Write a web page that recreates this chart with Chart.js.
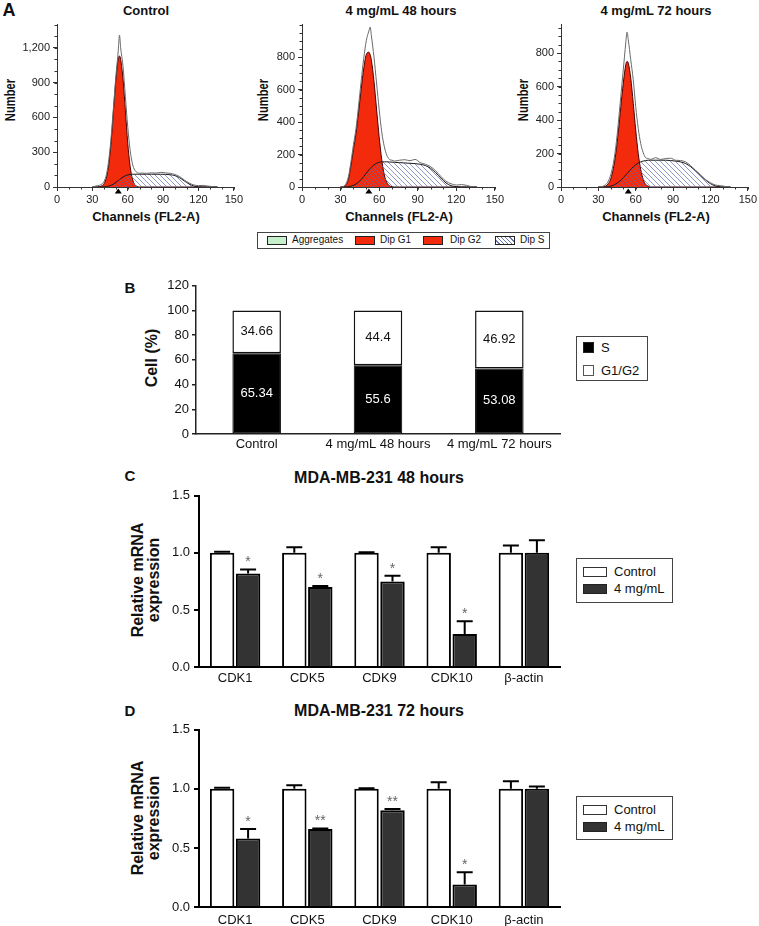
<!DOCTYPE html>
<html>
<head>
<meta charset="utf-8">
<script src="https://cdn.jsdelivr.net/npm/chart.js@4.4.0/dist/chart.umd.min.js"></script>
<style>
  body { margin: 0; background: #fff; font-family: "Liberation Sans", Arial, sans-serif; color: #111; }
  #fig { position: relative; width: 759px; height: 926px; overflow: hidden; }
  canvas { position: absolute; }
  .t { position: absolute; transform: translate(-50%, -50%); white-space: nowrap; }
  .b { font-weight: bold; }
  .rot { transform: translate(-50%, -50%) rotate(-90deg); }
  .lg { position: absolute; border: 1px solid #444; background: #fff; }
  .sw { position: absolute; box-sizing: border-box; border: 1px solid #222; }
  .lt { position: absolute; white-space: nowrap; }
</style>
</head>
<body>
<div id="fig">
  <!-- panel A -->
  <div class="t b" style="left:9px;top:10px;font-size:18px">A</div>
  <div class="t b" style="left:146px;top:10px;font-size:13px">Control</div>
  <div class="t b" style="left:401px;top:10px;font-size:13px">4 mg/mL 48 hours</div>
  <div class="t b" style="left:656px;top:10px;font-size:13px">4 mg/mL 72 hours</div>
  <div class="t b" style="left:10px;top:100px;font-size:14px;transform:translate(-50%,-50%) rotate(-90deg) scaleX(0.8)">Number</div>
  <div class="t b" style="left:263px;top:100px;font-size:14px;transform:translate(-50%,-50%) rotate(-90deg) scaleX(0.8)">Number</div>
  <div class="t b" style="left:523px;top:100px;font-size:14px;transform:translate(-50%,-50%) rotate(-90deg) scaleX(0.8)">Number</div>
  <div class="t b" style="left:146px;top:216px;font-size:13px">Channels (FL2-A)</div>
  <div class="t b" style="left:399px;top:216px;font-size:13px">Channels (FL2-A)</div>
  <div class="t b" style="left:656px;top:216px;font-size:13px">Channels (FL2-A)</div>
  <canvas id="hCtrl" width="225" height="200" style="left:20px;top:15px"></canvas>
  <canvas id="h48" width="240" height="200" style="left:266px;top:15px"></canvas>
  <canvas id="h72" width="235" height="200" style="left:524px;top:15px"></canvas>
  <div class="lg" style="left:257px;top:232px;width:291px;height:15px;font-size:10px">
    <div class="sw" style="left:9px;top:3px;width:20px;height:9px;background:#c6f0cc"></div>
    <div class="lt" style="left:34px;top:1px">Aggregates</div>
    <div class="sw" style="left:97px;top:3px;width:20px;height:9px;background:#f42a0c"></div>
    <div class="lt" style="left:122px;top:1px">Dip G1</div>
    <div class="sw" style="left:165px;top:3px;width:20px;height:9px;background:#f42a0c"></div>
    <div class="lt" style="left:192px;top:1px">Dip G2</div>
    <div class="sw" style="left:237px;top:3px;width:20px;height:9px;background:repeating-linear-gradient(45deg,#fff 0 2px,#6a76b4 2px 3px)"></div>
    <div class="lt" style="left:262px;top:1px">Dip S</div>
  </div>

  <!-- panel B -->
  <div class="t b" style="left:130px;top:287px;font-size:15px">B</div>
  <div class="t b rot" style="left:152px;top:358px;font-size:16px">Cell (%)</div>
  <canvas id="cB" width="430" height="180" style="left:140px;top:275px"></canvas>
  <div class="lg" style="left:576px;top:336px;width:70px;height:43px;font-size:13px">
    <div class="sw" style="left:6px;top:5px;width:11px;height:11px;background:#000"></div>
    <div class="lt" style="left:24px;top:3px">S</div>
    <div class="sw" style="left:6px;top:28px;width:11px;height:11px;background:#fff;border-color:#555"></div>
    <div class="lt" style="left:24px;top:26px">G1/G2</div>
  </div>

  <!-- panel C -->
  <div class="t b" style="left:130px;top:475px;font-size:15px">C</div>
  <div class="t b" style="left:379px;top:478px;font-size:16px">MDA-MB-231 48 hours</div>
  <div class="t b rot" style="left:138px;top:580px;font-size:16px">Relative mRNA</div>
  <div class="t b rot" style="left:154px;top:580px;font-size:16px">expression</div>
  <canvas id="cC" width="425" height="206" style="left:145px;top:484px"></canvas>
  <div class="lg" style="left:576px;top:558px;width:95px;height:43px;font-size:13px">
    <div class="sw" style="left:6px;top:8px;width:24px;height:10px;background:#fff;border-color:#333"></div>
    <div class="lt" style="left:37px;top:5px">Control</div>
    <div class="sw" style="left:6px;top:25px;width:24px;height:10px;background:#333"></div>
    <div class="lt" style="left:37px;top:22px">4 mg/mL</div>
  </div>

  <!-- panel D -->
  <div class="t b" style="left:130px;top:710px;font-size:15px">D</div>
  <div class="t b" style="left:379px;top:711px;font-size:16px">MDA-MB-231 72 hours</div>
  <div class="t b rot" style="left:138px;top:818px;font-size:16px">Relative mRNA</div>
  <div class="t b rot" style="left:154px;top:818px;font-size:16px">expression</div>
  <canvas id="cD" width="425" height="208" style="left:145px;top:718px"></canvas>
  <div class="lg" style="left:576px;top:796px;width:95px;height:42px;font-size:13px">
    <div class="sw" style="left:6px;top:8px;width:24px;height:10px;background:#fff;border-color:#333"></div>
    <div class="lt" style="left:37px;top:5px">Control</div>
    <div class="sw" style="left:6px;top:25px;width:24px;height:10px;background:#333"></div>
    <div class="lt" style="left:37px;top:22px">4 mg/mL</div>
  </div>
</div>

<script>
// ---- panel A: DNA histograms (values read per channel) ----
const channels = [30,33,36,38,40,42,44,46,48,50,52,53,54,56,58,60,62,64,66,68,70,72,76,80,84,88,92,96,100,104,108,112,116,120,124,128,132,136];

const ctrlRaw = [0,8,15,25,50,110,240,440,700,960,1180,1310,1200,1040,780,520,320,200,145,125,118,120,118,122,120,126,122,118,108,90,60,35,18,12,14,8,3,0];
const ctrlG1  = [0,0,3,10,30,85,200,400,670,930,1105,1130,1100,930,660,380,180,70,20,5,0,0,0,0,0,0,0,0,0,0,0,0,0,0,0,0,0,0];
const ctrlS   = [0,0,0,0,2,4,8,15,26,40,56,64,72,86,97,104,108,110,110,110,110,110,110,110,110,110,109,106,98,80,52,26,9,2,0,0,0,0];

const h48Raw = [0,8,60,150,260,360,500,650,790,900,960,985,930,800,640,480,340,250,195,170,165,160,165,168,162,170,150,140,125,100,65,35,20,12,15,10,2,0];
const h48G1  = [0,5,45,130,230,330,460,600,730,815,830,815,780,650,480,310,170,75,28,8,2,0,0,0,0,0,0,0,0,0,0,0,0,0,0,0,0,0];
const h48S   = [0,0,2,5,10,18,30,45,65,85,105,113,122,136,146,152,155,155,155,154,153,152,150,148,146,144,140,132,115,88,55,25,8,2,0,0,0,0];

const h72Raw = [0,3,15,35,75,140,240,380,540,700,860,925,880,760,640,480,350,260,205,175,170,165,175,165,170,172,160,158,150,128,100,72,45,25,12,8,3,0];
const h72G1  = [0,0,5,20,50,110,200,330,480,620,730,750,740,650,500,340,200,105,45,15,5,0,0,0,0,0,0,0,0,0,0,0,0,0,0,0,0,0];
const h72S   = [0,0,0,2,5,10,18,28,40,55,72,80,88,105,120,133,143,150,155,158,160,160,160,160,160,158,155,150,140,122,98,70,42,20,6,1,0,0];

const g1Mean = [52, 52, 54];   // channel of the G1 marker triangle

const ctrlTicks = [0, 300, 600, 900, 1200];
const h48Ticks = [0, 200, 400, 600, 800];
const h72Ticks = [0, 200, 400, 600, 800];

// ---- panel B ----
const groups = ['Control', '4 mg/mL 48 hours', '4 mg/mL 72 hours'];
const sPhase = [65.34, 55.6, 53.08];
const g1g2 = [34.66, 44.4, 46.92];

// ---- panels C and D ----
const genes = ['CDK1', 'CDK5', 'CDK9', 'CDK10', 'β-actin'];
const ctrl48 = [1, 1, 1, 1, 1];
const ctrl48Err = [0.01, 0.05, 0.005, 0.05, 0.065];
const trt48 = [0.82, 0.70, 0.75, 0.29, 1.0];
const trt48Err = [0.035, 0.01, 0.05, 0.11, 0.11];
const sig48 = ['*', '*', '*', '*', ''];

const ctrl72 = [1, 1, 1, 1, 1];
const ctrl72Err = [0.01, 0.03, 0.005, 0.055, 0.065];
const trt72 = [0.58, 0.66, 0.82, 0.19, 1.0];
const trt72Err = [0.08, 0.005, 0.01, 0.105, 0.02];
const sig72 = ['*', '**', '**', '*', ''];

Chart.defaults.font.family = '"Liberation Sans", Arial, sans-serif';
Chart.defaults.color = '#222';
Chart.defaults.animation = false;

function makeHatch() {
  const c = document.createElement('canvas');
  c.width = 5; c.height = 5;
  const g = c.getContext('2d');
  g.strokeStyle = 'rgba(95,108,175,0.7)';
  g.lineWidth = 1;
  g.beginPath();
  g.moveTo(0, 0); g.lineTo(5, 5);
  g.moveTo(-1, 4); g.lineTo(1, 6);
  g.moveTo(4, -1); g.lineTo(6, 1);
  g.stroke();
  return g.createPattern(c, 'repeat');
}
const hatch = makeHatch();

// minor ticks + G1 marker below the axis
const histExtras = {
  id: 'histExtras',
  afterDraw(chart, args, opts) {
    const {ctx, scales: {x, y}} = chart;
    ctx.save();
    ctx.strokeStyle = '#333';
    ctx.lineWidth = 1;
    ctx.beginPath();
    for (let v = x.min; v <= x.max; v += opts.xMinor) {
      const px = Math.round(x.getPixelForValue(v)) + 0.5;
      ctx.moveTo(px, y.bottom); ctx.lineTo(px, y.bottom + 2.5);
    }
    for (let v = y.min; v <= y.max; v += opts.yMinor) {
      const py = Math.round(y.getPixelForValue(v)) + 0.5;
      ctx.moveTo(x.left - 2.5, py); ctx.lineTo(x.left, py);
    }
    ctx.stroke();
    const mx = x.getPixelForValue(opts.mark);
    ctx.fillStyle = '#000';
    ctx.beginPath();
    ctx.moveTo(mx, y.bottom + 1.5);
    ctx.lineTo(mx - 3.5, y.bottom + 6.5);
    ctx.lineTo(mx + 3.5, y.bottom + 6.5);
    ctx.closePath();
    ctx.fill();
    ctx.restore();
  }
};

function histogram(id, raw, g1, s, mark, yMax, yTicks, yMinor, yWidth, padRight) {
  const pts = arr => channels.map((c, i) => ({x: c, y: arr[i]}));
  return new Chart(document.getElementById(id), {
    type: 'line',
    data: {
      datasets: [
        {label: 'Data', data: pts(raw), borderColor: '#6a6a6a', borderWidth: 1, pointRadius: 0,
         fill: false, order: 1, cubicInterpolationMode: 'monotone'},
        {label: 'Dip S', data: pts(s), borderColor: '#1a1a1a', borderWidth: 1, pointRadius: 0,
         backgroundColor: hatch, fill: 'origin', order: 2, cubicInterpolationMode: 'monotone'},
        {label: 'Dip G1', data: pts(g1), borderColor: '#4a0000', borderWidth: 1, pointRadius: 0,
         backgroundColor: '#f42a0c', fill: 'origin', order: 3, cubicInterpolationMode: 'monotone'}
      ]
    },
    options: {
      responsive: false,
      layout: {padding: {top: 7, right: padRight, left: 0, bottom: 0}},
      plugins: {
        legend: {display: false},
        tooltip: {enabled: false},
        histExtras: {xMinor: 10, yMinor: yMinor, mark: mark}
      },
      scales: {
        x: {
          type: 'linear', min: 0, max: 150,
          ticks: {stepSize: 30, font: {size: 11}, color: '#222', maxRotation: 0, padding: 2},
          grid: {drawOnChartArea: false, tickLength: 4, color: '#333'},
          border: {color: '#333'},
          afterFit: sc => { sc.height = 28; }
        },
        y: {
          min: 0, max: yMax,
          ticks: {font: {size: 11}, color: '#222', padding: 3},
          grid: {drawOnChartArea: false, tickLength: 4, color: '#333'},
          border: {color: '#333'},
          afterBuildTicks: sc => { sc.ticks = yTicks.map(v => ({value: v})); },
          afterFit: sc => { sc.width = yWidth; }
        }
      }
    },
    plugins: [histExtras]
  });
}

histogram('hCtrl', ctrlRaw, ctrlG1, ctrlS, g1Mean[0], 1400, ctrlTicks, 100, 37, 9);
histogram('h48', h48Raw, h48G1, h48S, g1Mean[1], 1000, h48Ticks, 50, 36, 10);
histogram('h72', h72Raw, h72G1, h72S, g1Mean[2], 970, h72Ticks, 50, 37, 8);

// ---- panel B ----
const segLabels = {
  id: 'segLabels',
  afterDatasetsDraw(chart) {
    const ctx = chart.ctx;
    ctx.save();
    ctx.font = '13px "Liberation Sans", Arial, sans-serif';
    ctx.textAlign = 'center';
    ctx.textBaseline = 'middle';
    chart.data.datasets.forEach((ds, di) => {
      chart.getDatasetMeta(di).data.forEach((bar, i) => {
        ctx.fillStyle = ds.labelColor;
        ctx.fillText(String(ds.data[i]), bar.x, (bar.y + bar.base) / 2);
      });
    });
    ctx.restore();
  }
};

new Chart(document.getElementById('cB'), {
  type: 'bar',
  data: {
    labels: groups,
    datasets: [
      {label: 'S', data: sPhase, backgroundColor: '#000', borderColor: '#000', borderWidth: 1, labelColor: '#fff'},
      {label: 'G1/G2', data: g1g2, backgroundColor: '#fff', borderColor: '#111', borderWidth: 1.5, labelColor: '#111'}
    ]
  },
  options: {
    responsive: false,
    layout: {padding: {top: 8, right: 10, left: 0, bottom: 0}},
    datasets: {bar: {categoryPercentage: 0.8, barPercentage: 0.5, borderSkipped: false}},
    plugins: {legend: {display: false}, tooltip: {enabled: false}},
    scales: {
      x: {
        stacked: true,
        ticks: {font: {size: 13}, color: '#111', padding: 3, maxRotation: 0},
        grid: {display: false, drawTicks: false},
        border: {color: '#222', width: 1.5},
        afterFit: sc => { sc.height = 21; }
      },
      y: {
        stacked: true, min: 0, max: 120,
        ticks: {stepSize: 20, font: {size: 13}, color: '#111', padding: 3},
        grid: {drawOnChartArea: false, tickLength: 4, color: '#222', lineWidth: 1.5},
        border: {color: '#222', width: 1.5},
        afterFit: sc => { sc.width = 56; }
      }
    }
  },
  plugins: [segLabels]
});

// ---- panels C / D ----
const errorBars = {
  id: 'errorBars',
  afterDatasetsDraw(chart) {
    const ctx = chart.ctx;
    const yScale = chart.scales.y;
    ctx.save();
    chart.data.datasets.forEach((ds, di) => {
      chart.getDatasetMeta(di).data.forEach((bar, i) => {
        const top = yScale.getPixelForValue(ds.data[i] + ds.errors[i]);
        ctx.strokeStyle = '#000';
        ctx.lineWidth = 2;
        ctx.beginPath();
        ctx.moveTo(bar.x, bar.y);
        ctx.lineTo(bar.x, top);
        ctx.moveTo(bar.x - 8, top);
        ctx.lineTo(bar.x + 8, top);
        ctx.stroke();
        if (ds.stars && ds.stars[i]) {
          ctx.fillStyle = '#666';
          ctx.font = '14px "Liberation Sans", Arial, sans-serif';
          ctx.textAlign = 'center';
          ctx.textBaseline = 'middle';
          ctx.fillText(ds.stars[i], bar.x, top - 7);
        }
      });
    });
    ctx.restore();
  }
};

function expression(id, ctrl, ctrlErr, trt, trtErr, stars, xHeight, labelPad) {
  return new Chart(document.getElementById(id), {
    type: 'bar',
    data: {
      labels: genes,
      datasets: [
        {label: 'Control', data: ctrl, errors: ctrlErr, backgroundColor: '#fff', borderColor: '#000', borderWidth: 2},
        {label: '4 mg/mL', data: trt, errors: trtErr, stars: stars, backgroundColor: '#333', borderColor: '#000', borderWidth: 2}
      ]
    },
    options: {
      responsive: false,
      layout: {padding: {top: 10, right: 10, left: 0, bottom: 0}},
      datasets: {bar: {categoryPercentage: 0.72, barPercentage: 0.94, borderSkipped: 'start'}},
      plugins: {legend: {display: false}, tooltip: {enabled: false}},
      scales: {
        x: {
          ticks: {font: {size: 13}, color: '#111', padding: labelPad, maxRotation: 0},
          grid: {display: false, drawTicks: false},
          border: {color: '#000', width: 2},
          afterFit: sc => { sc.height = xHeight; }
        },
        y: {
          min: 0, max: 1.5,
          ticks: {stepSize: 0.5, font: {size: 13}, color: '#111', padding: 4, callback: v => v.toFixed(1)},
          grid: {drawOnChartArea: false, tickLength: 5, color: '#000', lineWidth: 2},
          border: {color: '#000', width: 2},
          afterFit: sc => { sc.width = 54; }
        }
      }
    },
    plugins: [errorBars]
  });
}

expression('cC', ctrl48, ctrl48Err, trt48, trt48Err, sig48, 23, 4);
expression('cD', ctrl72, ctrl72Err, trt72, trt72Err, sig72, 19, 6);
</script>
</body>
</html>
